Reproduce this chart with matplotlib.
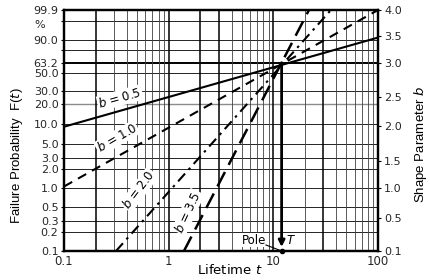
import numpy as np
import matplotlib
matplotlib.use("Agg")
import matplotlib.pyplot as plt

# ---------------- data ----------------
pct_ticks = [99.9, 90, 63.2, 50, 30, 20, 10, 5, 3, 2, 1, 0.5, 0.3, 0.2, 0.1]
pct_tick_labels = ['99.9', '90.0', '63.2', '50.0', '30.0', '20.0', '10.0',
                   '5.0', '3.0', '2.0', '1.0', '0.5', '0.3', '0.2', '0.1']
pct_grid = [99, 90, 80, 50, 30, 10, 5, 3, 2, 1, 0.5, 0.3, 0.2]
pct_grid_gray = [20]
pct_char = 63.2

b_scale_labels = ['4.0', '3.5', '3.0', '2.5', '2.0', '1.5', '1.0', '0.5', '0.1']
b_scale_at_pct = [99.9, 92.9, 63.2, 24.5, 9.2, 2.7, 1.0, 0.34, 0.1]

x_ticks = [0.1, 1, 10, 100]
x_tick_labels = ['0.1', '1', '10', '100']
t_grid_minor = [0.3, 0.4, 0.5, 0.6, 0.7, 0.8, 0.9, 4, 5, 6, 7, 8, 9,
                20, 40, 50, 60, 70, 80, 90]
t_grid_major = [0.2, 1, 2, 3, 10, 30]

b_values = [0.5, 1.0, 2.0, 3.5]
b_labels = ['$b$ = 0.5', '$b$ = 1.0', '$b$ = 2.0', '$b$ = 3.5']
line_t_start = [0.1, 0.1, 0.314, 1.40]
line_F_start = [9.1, 1.06, 0.1, 0.1]
line_t_end = [100, 100, 35.5, 21.9]
line_F_end = [91.9, 99.9, 99.9, 99.9]

pole_t = 12.0


def W(p):
    return np.log(-np.log(1 - np.asarray(p, dtype=float) / 100.0))


plt.rcParams['font.family'] = ['DejaVu Sans']
plt.rcParams['mathtext.fontset'] = 'dejavusans'

fig = plt.figure(figsize=(4.31, 2.80), dpi=100)
L, R, T, B = 64, 378, 10, 251
ax = fig.add_axes([L / 431, 1 - B / 280, (R - L) / 431, (B - T) / 280])
ax.set_xscale('log')
ax.set_xlim(0.1, 100)
ymin, ymax = float(W(0.1)), float(W(99.9))
ax.set_ylim(ymin, ymax)

# grid
for p in pct_grid:
    ax.axhline(W(p), color='black', lw=0.6, zorder=1)
for p in pct_grid_gray:
    ax.axhline(W(p), color='0.55', lw=1.0, zorder=1)
ax.axhline(W(pct_char), color='black', lw=1.4, zorder=1)
for t in t_grid_minor:
    ax.axvline(t, color='0.25', lw=0.6, zorder=1)
for t in t_grid_major:
    ax.axvline(t, color='black', lw=1.1, zorder=1)

# lines
styles = [dict(ls='-', lw=1.5),
          dict(ls=(0, (4.5, 3.2)), lw=1.5),
          dict(ls=(0, (5, 2.5, 1.2, 2.5)), lw=1.5),
          dict(ls=(0, (6.5, 3.2)), lw=1.8)]
for i in range(len(b_values)):
    ax.plot([line_t_start[i], line_t_end[i]],
            [W(line_F_start[i]), W(line_F_end[i])],
            color='black', zorder=3, solid_capstyle='butt', **styles[i])


def px2data(px, py):
    t = 10 ** ((px - L) / (R - L) * 3 - 1)
    w = ymax - (py - T) / (B - T) * (ymax - ymin)
    return t, w


label_px = [(120, 98), (117, 138), (139, 190), (188, 212)]
label_rot = [16, 30, 53, 65]
for lab, (px, py), rot in zip(b_labels, label_px, label_rot):
    t, w = px2data(px, py)
    ax.text(t, w, lab, rotation=rot, ha='center', va='center',
            rotation_mode='anchor', fontsize=8.5, zorder=4,
            bbox=dict(facecolor='white', edgecolor='none', pad=0.6))

# pole arrow
t_arr_end, w_arr_end = px2data(283, 247)
ax.annotate('', xy=(pole_t, w_arr_end), xytext=(pole_t, W(pct_char)),
            arrowprops=dict(arrowstyle='-|>', lw=2.0, color='black',
                            mutation_scale=9, shrinkA=0, shrinkB=0),
            zorder=5)
tp, wp = px2data(254, 240)
ax.text(tp, wp, 'Pole', ha='center', va='center', fontsize=8.5, zorder=6,
        bbox=dict(facecolor='white', edgecolor='none', pad=0.3))
t1, w1 = px2data(266, 245)
ax.plot([t1, pole_t], [w1, ymin], color='black', lw=0.8, zorder=6, clip_on=False)
ax.plot([pole_t], [ymin], 'o', color='black', ms=3, zorder=7, clip_on=False)
tT, wT = px2data(291, 241)
ax.text(tT, wT, '$T$', ha='center', va='center', fontsize=8.5, zorder=6)

# axes ticks
ax.set_yticks(W(pct_ticks))
ax.set_yticklabels(pct_tick_labels)
ax.set_yticks(W([99, 80]), minor=True)
ax.tick_params(axis='y', which='both', direction='out', length=2.5, width=0.8,
               pad=1.5, labelsize=8, colors='black')
ax.set_xticks(x_ticks)
ax.set_xticklabels(x_tick_labels)
ax.xaxis.set_minor_locator(matplotlib.ticker.NullLocator())
ax.tick_params(axis='x', which='both', length=0, pad=3, labelsize=8.5)
for lab in ax.get_yticklabels() + ax.get_xticklabels():
    lab.set_color('0.15')

ax.text(-0.076, 0.938, '%', transform=ax.transAxes, ha='center', va='center',
        fontsize=8, color='0.15')

ax2 = ax.twinx()
ax2.set_ylim(ymin, ymax)
ax2.set_yticks(W(b_scale_at_pct))
ax2.set_yticklabels(b_scale_labels)
ax2.tick_params(axis='y', direction='out', length=2.5, width=0.8, pad=2,
                labelsize=8)
for lab in ax2.get_yticklabels():
    lab.set_color('0.15')

for a in (ax, ax2):
    for s in a.spines.values():
        s.set_linewidth(1.6)

fig.text(230 / 431, 1 - 270 / 280, 'Lifetime $t$', ha='center', va='center',
         fontsize=9.5)
fig.text(17 / 431, 1 - 156 / 280, 'Failure Probability  F($t$)', rotation=90,
         ha='center', va='center', fontsize=9.5, family='Liberation Sans')
fig.text(421 / 431, 1 - 144 / 280, 'Shape Parameter $b$', rotation=90,
         ha='center', va='center', fontsize=9.5, family='Liberation Sans')

fig.savefig('out.png', dpi=100)
